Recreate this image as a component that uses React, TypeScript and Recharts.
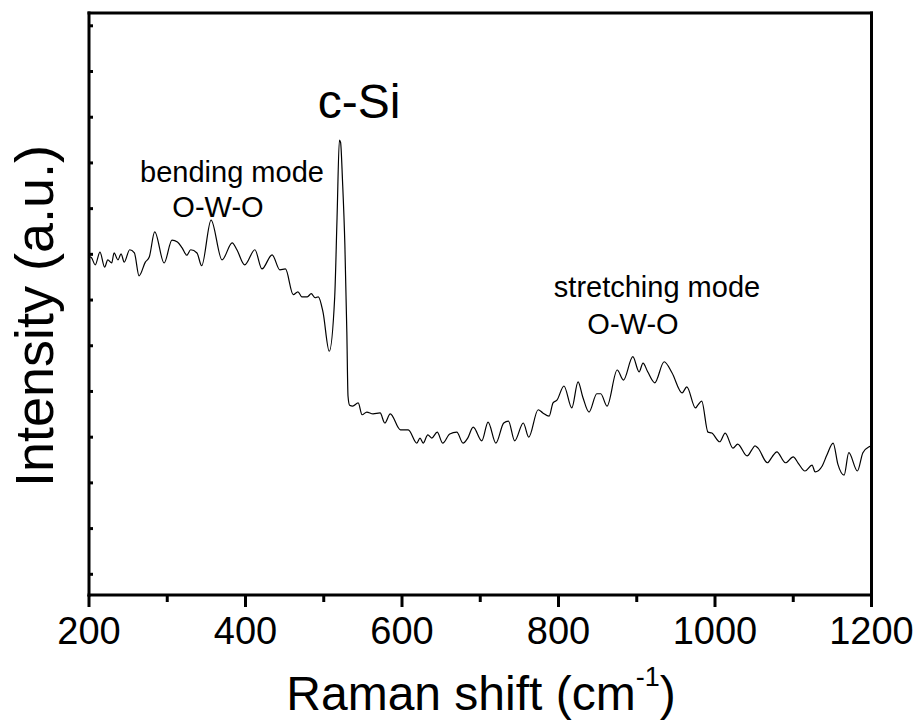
import React from 'react';
import { LineChart, Line, XAxis, YAxis } from 'recharts';

// Raman shift (cm^-1) and intensity (a.u., in y-tick units)
const shift = [
  200, 203, 208, 214, 220, 224, 229, 232, 237, 241, 245, 252, 258, 264, 272, 277, 284, 296, 306,
  313, 319, 325, 330, 338, 344, 356, 370, 383, 389, 399, 412, 421, 434, 444, 451, 461, 467, 472,
  479, 484, 489, 493, 499, 507, 514, 517, 520, 521.5, 524, 527, 529.5, 531, 533, 537, 544, 549,
  555, 563, 572, 578, 585, 598, 608, 619, 623, 627, 633, 638, 645, 652, 661, 670, 678, 684, 691,
  702, 710, 720, 730, 736, 744, 755, 762, 774, 780, 788, 793, 798, 807, 817, 825, 831, 839, 849,
  854, 862, 875, 883, 895, 903, 908, 914, 923, 935, 945, 958, 964, 975, 978, 983, 991, 996, 1006,
  1013, 1023, 1029, 1041, 1047, 1051, 1055, 1067, 1073, 1079, 1090, 1100, 1106, 1115, 1124, 1128,
  1137, 1143, 1151, 1157, 1165, 1171, 1182, 1189, 1197, 1200,
];
const intensity = [
  6.95, 6.93, 6.77, 7.05, 6.72, 6.88, 6.81, 7.03, 6.88, 7.01, 6.83, 7.1, 7.03, 6.53, 6.83, 6.94,
  7.49, 6.81, 7.31, 7.27, 7.14, 6.98, 7.1, 7.03, 6.75, 7.75, 6.88, 7.25, 7.1, 6.77, 7.1, 6.68,
  6.99, 6.66, 6.68, 6.12, 6.18, 6.07, 6.07, 6.14, 6.05, 6.07, 5.74, 4.88, 6.07, 7.8, 9.5, 9.45,
  8.6, 7.2, 5.3, 3.9, 3.7, 3.68, 3.75, 3.49, 3.55, 3.51, 3.53, 3.31, 3.51, 3.16, 3.16, 2.87, 2.98,
  2.87, 3.05, 2.98, 3.11, 2.87, 3.07, 3.11, 2.87, 2.98, 3.22, 2.92, 3.33, 2.87, 3.31, 3.35, 2.92,
  3.31, 3.0, 3.6, 3.53, 3.46, 3.75, 3.81, 4.12, 3.64, 4.21, 3.88, 3.55, 3.95, 3.95, 3.68, 4.47,
  4.25, 4.76, 4.43, 4.62, 4.43, 4.19, 4.65, 4.41, 3.97, 4.1, 3.64, 3.7, 3.79, 3.11, 3.09, 2.9,
  3.09, 2.76, 2.85, 2.59, 2.72, 2.81, 2.76, 2.44, 2.57, 2.68, 2.44, 2.57, 2.44, 2.26, 2.39, 2.24,
  2.37, 2.61, 2.87, 2.41, 2.17, 2.66, 2.26, 2.66, 2.79, 2.81,
];
const xTicks = [200, 300, 400, 500, 600, 700, 800, 900, 1000, 1100, 1200];
const yTicks = [0, 1, 2, 3, 4, 5, 6, 7, 8, 9, 10, 11, 12];

const data = shift.map((s, i) => ({ shift: s, intensity: intensity[i] }));

const FONT = '"Liberation Sans", Arial, Helvetica, sans-serif';
const frame = { stroke: '#000', strokeWidth: 3, strokeLinecap: 'square' as const };

const BottomTick = (props: any) => {
  const { x, y, payload } = props;
  const major = payload.value % 200 === 0;
  return (
    <g>
      <line x1={x} y1={y} x2={x} y2={y + (major ? 12 : 7)} stroke='#000' strokeWidth={3} />
      {major && (
        <text x={x} y={y + 49} textAnchor='middle' fontSize={38} fontFamily={FONT} fill='#000'>
          {payload.value}
        </text>
      )}
    </g>
  );
};

const TopTick = (props: any) => {
  const { x, y } = props;
  return <line x1={x} y1={y} x2={x} y2={y + 4} stroke='#000' strokeWidth={2} />;
};

const LeftTick = (props: any) => {
  const { x, y } = props;
  return <line x1={x} y1={y} x2={x + 4} y2={y} stroke='#000' strokeWidth={3} />;
};

const RightTick = (props: any) => {
  const { x, y } = props;
  return <line x1={x} y1={y} x2={x - 4} y2={y} stroke='#000' strokeWidth={3} />;
};

export default function App() {
  return (
    <div style={{ position: 'absolute', left: 0, top: 0, width: 920, height: 723, background: '#fff' }}>
      <LineChart
        width={920}
        height={723}
        data={data}
        margin={{ top: 12, right: 47.5, left: 88, bottom: 98 }}
      >
        <XAxis
          dataKey='shift'
          type='number'
          domain={[200, 1200]}
          ticks={xTicks}
          interval={0}
          height={30}
          tickSize={0}
          tickMargin={0}
          tickLine={false}
          axisLine={frame}
          tick={<BottomTick />}
        />
        <XAxis
          xAxisId='top'
          orientation='top'
          type='number'
          domain={[200, 1200]}
          ticks={xTicks}
          interval={0}
          height={1}
          tickSize={0}
          tickMargin={0}
          tickLine={false}
          axisLine={frame}
          tick={<TopTick />}
        />
        <YAxis
          type='number'
          domain={[-0.453, 12.28]}
          ticks={yTicks}
          interval={0}
          width={1}
          tickSize={0}
          tickMargin={0}
          tickLine={false}
          axisLine={frame}
          tick={<LeftTick />}
        />
        <YAxis
          yAxisId='right'
          orientation='right'
          type='number'
          domain={[-0.453, 12.28]}
          ticks={yTicks}
          interval={0}
          width={1}
          tickSize={0}
          tickMargin={0}
          tickLine={false}
          axisLine={frame}
          tick={<RightTick />}
        />
        <Line
          type='monotone'
          dataKey='intensity'
          stroke='#000'
          strokeWidth={1.2}
          dot={false}
          isAnimationActive={false}
        />
      </LineChart>
      <svg
        width={920}
        height={723}
        style={{ position: 'absolute', left: 0, top: 0, pointerEvents: 'none' }}
        fontFamily={FONT}
        fill='#000'
      >
        <text x={359} y={118} fontSize={48} textAnchor='middle'>c-Si</text>
        <text x={232} y={182} fontSize={29} textAnchor='middle'>bending mode</text>
        <text x={218} y={217} fontSize={29} textAnchor='middle'>O-W-O</text>
        <text x={657} y={297} fontSize={29} textAnchor='middle'>stretching mode</text>
        <text x={633} y={334} fontSize={29} textAnchor='middle'>O-W-O</text>
        <text x={481} y={710} fontSize={48} textAnchor='middle'>
          Raman shift (cm<tspan fontSize={27} dy={-24}>-1</tspan><tspan dy={24}>)</tspan>
        </text>
        <text x={53} y={316} fontSize={54} textAnchor='middle' transform='rotate(-90 53 316)'>
          Intensity (a.u.)
        </text>
      </svg>
    </div>
  );
}
